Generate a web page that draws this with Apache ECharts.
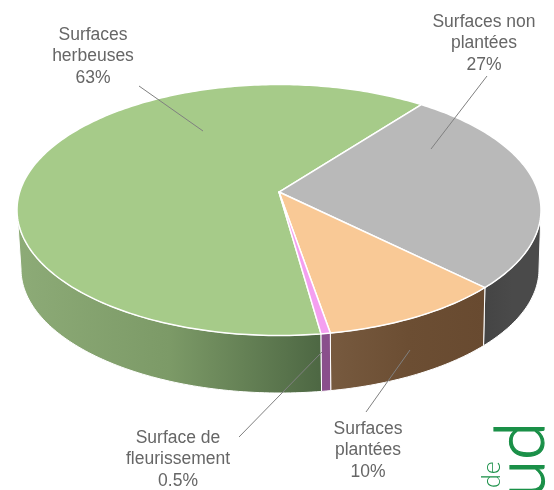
<!DOCTYPE html>
<html>
<head>
<meta charset="utf-8">
<style>
  html, body { margin: 0; padding: 0; background: #fff; }
  #main { width: 554px; height: 490px; }
</style>
<script src="https://cdn.jsdelivr.net/npm/echarts@6/dist/echarts.min.js"></script>
</head>
<body>
<div id="main"></div>
<script>
// data, clockwise from the pink/green border
var categories = ['Surfaces\nherbeuses', 'Surfaces non\nplantées', 'Surfaces\nplantées', 'Surface de\nfleurissement'];
var values = [63, 27, 10, 0.5];
var valueLabels = ['63%', '27%', '10%', '0.5%'];

// colours
var topColors = ['#a6cb89', '#b9b9b9', '#f9c996', '#f49ff0'];
var wallColors = [
  ['#8dab77', '#7c9a67', '#4d6743'],
  ['#444444', '#4a4a4a', '#4a4a4a'],
  ['#775a3f', '#6c4e33', '#684a30'],
  ['#8a4f8c', '#8a4f8c', '#8a4f8c']
];

// layout of the annotations: text centre, leader start, leader end
var labelPos = [[93, 33], [484, 20], [368, 427], [178, 436]];
var leaderFrom = [[139, 86], [487, 76], [366, 412], [239, 437]];
var leaderTo = [[203, 131], [431, 149], [410, 350], [322, 352]];

// shape of the disc
var topEllipse = { cx: 279, cy: 210, rx: 262, ry: 125.5 };
var bottomEllipse = { cx: 280, cy: 269, rx: 259, ry: 124 };
var tilt = 0.143; // the apex sits above the ellipse centre (perspective)
var startAngle = 82;

var total = values.reduce(function (a, b) { return a + b; }, 0);
var RAD = Math.PI / 180;

// point of the disc at screen angle deg (clockwise), radius 1 is the rim
function project(e, deg, r) {
  var x = r * Math.cos(deg * RAD), y = r * Math.sin(deg * RAD);
  var w = 1 - tilt * y;
  return [
    e.cx + e.rx * x * Math.sqrt(1 - tilt * tilt) / w,
    e.cy + e.ry * (y - tilt) / w
  ];
}

function sliceAngles(index) {
  var a = startAngle;
  for (var i = 0; i < index; i++) a += values[i] / total * 360;
  return [a, a + values[index] / total * 360];
}

function arcAngles(a0, a1) {
  var list = [], n = Math.max(2, Math.ceil(a1 - a0));
  for (var i = 0; i <= n; i++) list.push(a0 + (a1 - a0) * i / n);
  return list;
}

// only the part of the rim facing us has a wall
function wallAngles(a0, a1) {
  var front0 = Math.asin(tilt) / RAD, front1 = 180 - front0;
  var list = [];
  [-360, 0, 360].forEach(function (shift) {
    var s = Math.max(a0, front0 + shift), e = Math.min(a1, front1 + shift);
    if (e > s) list = list.concat(arcAngles(s, e));
  });
  return list;
}

function renderSlice(params, api) {
  var i = params.dataIndex;
  var range = sliceAngles(i);
  var children = [];

  var wall = wallAngles(range[0], range[1]);
  if (wall.length) {
    var pts = wall.map(function (a) { return project(topEllipse, a, 1); });
    var back = wall.map(function (a) { return project(bottomEllipse, a, 1); }).reverse();
    children.push({
      type: 'polygon',
      z2: 1,
      shape: { points: pts.concat(back) },
      style: {
        fill: new echarts.graphic.LinearGradient(0, 0, 1, 0, [
          { offset: 0, color: wallColors[i][0] },
          { offset: 0.5, color: wallColors[i][1] },
          { offset: 1, color: wallColors[i][2] }
        ]),
        stroke: '#fff',
        lineWidth: 1
      }
    });
  }

  var top = [project(topEllipse, 0, 0)].concat(
    arcAngles(range[0], range[1]).map(function (a) { return project(topEllipse, a, 1); })
  );
  children.push({
    type: 'polygon',
    z2: 2,
    shape: { points: top },
    style: { fill: topColors[i], stroke: '#fff', lineWidth: 1.5, lineJoin: 'round' }
  });

  children.push({
    type: 'line',
    z2: 3,
    shape: { x1: leaderFrom[i][0], y1: leaderFrom[i][1], x2: leaderTo[i][0], y2: leaderTo[i][1] },
    style: { stroke: '#808080', lineWidth: 1 }
  });
  children.push({
    type: 'text',
    z2: 4,
    x: labelPos[i][0],
    y: labelPos[i][1] - 9,
    style: {
      text: categories[i] + '\n' + valueLabels[i],
      align: 'center',
      verticalAlign: 'top',
      fill: '#666',
      font: '17.5px "Liberation Sans", Arial, sans-serif',
      lineHeight: 21.5
    }
  });
  return { type: 'group', children: children };
}

var chart = echarts.init(document.getElementById('main'));
chart.setOption({
  backgroundColor: '#fff',
  animation: false,
  series: [{
    type: 'custom',
    coordinateSystem: 'none',
    silent: true,
    renderItem: renderSlice,
    data: values.map(function (v, i) { return { name: categories[i], value: [v] }; })
  }],
  graphic: [
    {
      type: 'text', x: 556, y: 498, rotation: Math.PI / 2, silent: true,
      style: { text: 'ud', fill: '#1a9048', stroke: '#1a9048', lineWidth: 1.2, font: '300 69px Lato, sans-serif', align: 'left', verticalAlign: 'bottom' }
    },
    {
      type: 'text', x: 504, y: 488, rotation: Math.PI / 2, silent: true,
      style: { text: 'de', fill: '#1a9048', font: '300 25px Lato, sans-serif', align: 'left', verticalAlign: 'bottom' }
    }
  ]
});
</script>
</body>
</html>
